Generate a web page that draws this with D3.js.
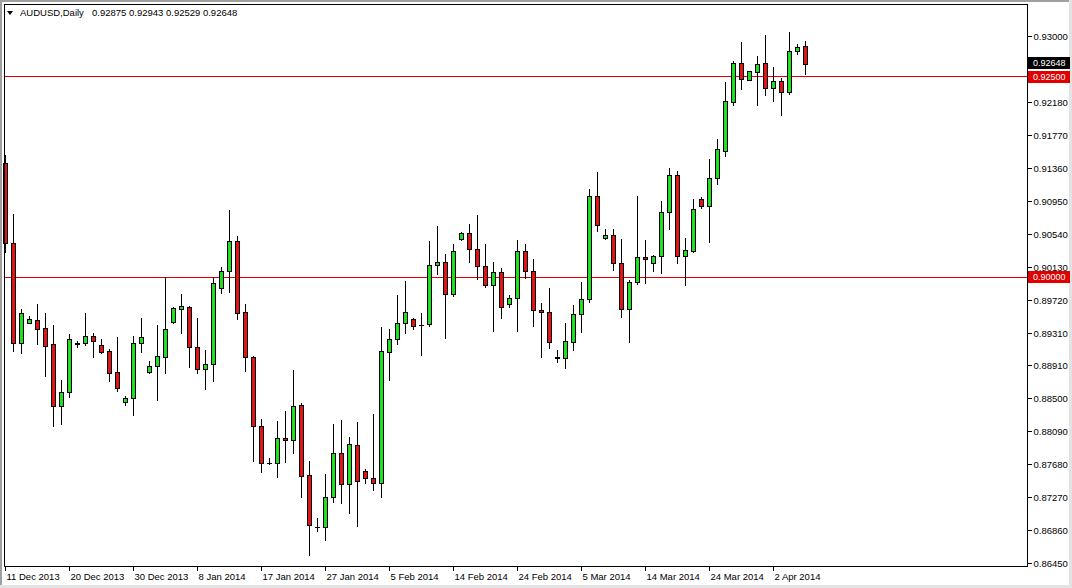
<!DOCTYPE html>
<html>
<head>
<meta charset="utf-8">
<script src="https://cdn.jsdelivr.net/npm/d3@7"></script>
<style>
  html, body { margin: 0; padding: 0; background: #fff; }
  svg { display: block; }
  text { font-family: "Liberation Sans", Arial, sans-serif; }
</style>
</head>
<body>
<svg id="chart" width="1072" height="588"></svg>
<script>
// ---- data (AUDUSD Daily, bar index 0..100) ----
const open = [0.91418,0.90423,0.89188,0.89437,0.89470,0.89367,0.89172,0.88405,0.88572,0.89181,
0.89181,0.89271,0.89156,0.89081,0.88824,0.88455,0.88497,0.89181,0.88820,0.88898,
0.89014,0.89449,0.89611,0.89635,0.89131,0.88857,0.88920,0.89864,0.90075,0.90448,
0.89566,0.89007,0.88156,0.87689,0.87697,0.88000,0.87975,0.88410,0.87540,0.86901,
0.86901,0.87267,0.87813,0.87428,0.87913,0.87590,0.87503,0.87441,0.89076,0.89230,
0.89429,0.89483,0.89408,0.89417,0.90150,0.90187,0.89790,0.90473,0.90548,0.90349,
0.90141,0.89901,0.90063,0.89665,0.89740,0.90324,0.90075,0.89591,0.89566,0.89007,
0.88998,0.89200,0.89541,0.89727,0.91011,0.90486,0.90523,0.90175,0.89603,0.89939,
0.90249,0.90175,0.90262,0.90809,0.91269,0.90262,0.90332,0.90974,0.90891,0.91231,
0.91574,0.92183,0.92661,0.92449,0.92549,0.92661,0.92350,0.92437,0.92300,0.92810,
0.92875];
const high = [0.91521,0.90788,0.89603,0.89520,0.89669,0.89561,0.89412,0.88724,0.89296,0.89213,
0.89553,0.89305,0.89230,0.89114,0.89255,0.88526,0.89271,0.89495,0.88957,0.89404,
0.90008,0.89628,0.89790,0.89644,0.89495,0.89097,0.90008,0.90125,0.90837,0.90514,
0.89669,0.89023,0.88240,0.87759,0.88215,0.88339,0.88849,0.88442,0.87718,0.87006,
0.87556,0.88178,0.88227,0.88012,0.88202,0.87614,0.88302,0.89387,0.89355,0.89781,
0.89955,0.89499,0.89553,0.90452,0.90638,0.90287,0.90415,0.90564,0.90663,0.90775,
0.90415,0.90191,0.90116,0.89781,0.90464,0.90418,0.90225,0.89681,0.89868,0.89097,
0.89429,0.89657,0.89942,0.91095,0.91310,0.90597,0.90597,0.90473,0.89967,0.91011,
0.90464,0.90272,0.90945,0.91359,0.91322,0.90489,0.90970,0.90999,0.91471,0.91720,
0.92428,0.92689,0.92929,0.92561,0.92751,0.93012,0.92615,0.92474,0.93053,0.92901,
0.92943];
const low = [0.90315,0.89089,0.89056,0.89427,0.89172,0.88774,0.88153,0.88178,0.88509,0.89138,
0.89156,0.89014,0.89064,0.88716,0.88584,0.88417,0.88289,0.89076,0.88811,0.88476,
0.88815,0.89437,0.89312,0.88890,0.88808,0.88609,0.88716,0.89810,0.89818,0.89479,
0.88840,0.87721,0.87585,0.87680,0.87523,0.87709,0.87821,0.87274,0.86549,0.86848,
0.86736,0.87208,0.87199,0.87068,0.86910,0.87448,0.87357,0.87267,0.88724,0.89168,
0.89305,0.89362,0.89031,0.89396,0.90038,0.89243,0.89768,0.90461,0.90187,0.89980,
0.89877,0.89333,0.89491,0.89628,0.89337,0.89996,0.89399,0.89007,0.89118,0.88952,
0.88874,0.89097,0.89325,0.89698,0.90580,0.90477,0.90092,0.89504,0.89200,0.89918,
0.89934,0.90083,0.90058,0.90605,0.90175,0.89909,0.90319,0.90866,0.90443,0.91164,
0.91512,0.92139,0.92345,0.92449,0.92142,0.92270,0.92192,0.92018,0.92275,0.92773,
0.92529];
const close = [0.90423,0.89188,0.89553,0.89479,0.89362,0.89151,0.88405,0.88572,0.89230,0.89178,
0.89271,0.89213,0.89076,0.88815,0.88629,0.88501,0.89181,0.89255,0.88898,0.89023,
0.89355,0.89619,0.89640,0.89131,0.88857,0.88920,0.89926,0.90075,0.90448,0.89561,
0.89007,0.88156,0.87689,0.87687,0.88000,0.87975,0.88398,0.87535,0.86918,0.86898,
0.87267,0.87813,0.87428,0.87925,0.87473,0.87503,0.87441,0.89081,0.89230,0.89429,
0.89566,0.89399,0.89406,0.90150,0.90187,0.89790,0.90324,0.90551,0.90349,0.90141,
0.89901,0.90063,0.89628,0.89740,0.90324,0.90075,0.89591,0.89566,0.89193,0.89004,
0.89209,0.89545,0.89731,0.91011,0.90647,0.90523,0.90175,0.89603,0.89939,0.90249,
0.90225,0.90262,0.90809,0.91269,0.90262,0.90340,0.90846,0.90891,0.91231,0.91592,
0.92188,0.92661,0.92462,0.92561,0.92648,0.92350,0.92437,0.92300,0.92814,0.92860,
0.92648];

const tickBars   = [0, 8, 16, 24, 32, 40, 48, 56, 64, 72, 80, 88, 96];
const tickLabels = ["11 Dec 2013","20 Dec 2013","30 Dec 2013","8 Jan 2014","17 Jan 2014","27 Jan 2014",
                    "5 Feb 2014","14 Feb 2014","24 Feb 2014","5 Mar 2014","14 Mar 2014","24 Mar 2014","2 Apr 2014"];
const priceTicks = [0.93000,0.92180,0.91770,0.91360,0.90950,0.90540,0.90130,0.89720,
                    0.89310,0.88910,0.88500,0.88090,0.87680,0.87270,0.86860,0.86450];
const hLines = [0.92500, 0.90000];
const symbol = "AUDUSD,Daily";
const lastOHLC = [0.92875, 0.92943, 0.92529, 0.92648];
const bidPrice = 0.92648;

// ---- layout ----
const W = 1072, H = 588;
const plotL = 4, plotR = 1027, plotT = 4, plotB = 566;
const upFill = "#1fdf1f", downFill = "#e01414", lineRed = "#e00000";

const svg = d3.select("#chart");
svg.append("rect").attr("width", W).attr("height", H).attr("fill", "#ffffff");

// window frame
svg.append("rect").attr("x", 0).attr("y", 0).attr("width", W).attr("height", 2).attr("fill", "#a0a0a0");
svg.append("rect").attr("x", 0).attr("y", 0).attr("width", 2).attr("height", H).attr("fill", "#a0a0a0");
svg.append("rect").attr("x", W - 3).attr("y", 0).attr("width", 3).attr("height", H).attr("fill", "#e3e3e3");
svg.append("rect").attr("x", 0).attr("y", H - 3).attr("width", W).attr("height", 3).attr("fill", "#e3e3e3");

const n = open.length;
const x = d3.scaleLinear().domain([0, 100]).range([5, 805]);
const y = d3.scaleLinear().domain([0.864129, 0.933853]).range([566, 5]);

// horizontal lines
svg.append("g").selectAll("line").data(hLines).join("line")
  .attr("x1", plotL).attr("x2", plotR)
  .attr("y1", d => Math.round(y(d)) + 0.5).attr("y2", d => Math.round(y(d)) + 0.5)
  .attr("stroke", lineRed).attr("stroke-width", 1);

const idx = d3.range(n);
const g = svg.append("g").attr("shape-rendering", "crispEdges");

// wicks
g.selectAll("line.wick").data(idx).join("line").attr("class", "wick")
  .attr("x1", i => Math.round(x(i)) + 0.5).attr("x2", i => Math.round(x(i)) + 0.5)
  .attr("y1", i => Math.round(y(high[i]))).attr("y2", i => Math.round(y(low[i])) + 1)
  .attr("stroke", "#000").attr("stroke-width", 1);

// bodies
idx.forEach(i => {
  const cx = Math.round(x(i));
  const top = Math.round(y(Math.max(open[i], close[i])));
  const bot = Math.round(y(Math.min(open[i], close[i])));
  if (bot - top < 1) {
    g.append("line").attr("x1", cx - 2).attr("x2", cx + 3)
      .attr("y1", top + 0.5).attr("y2", top + 0.5)
      .attr("stroke", "#000").attr("stroke-width", 1);
  } else {
    g.append("rect").attr("x", cx - 1.5).attr("y", top + 0.5)
      .attr("width", 4).attr("height", bot - top)
      .attr("fill", close[i] >= open[i] ? upFill : downFill)
      .attr("stroke", "#000").attr("stroke-width", 1);
  }
});

// plot frame
svg.append("rect").attr("x", plotL + 0.5).attr("y", plotT + 0.5)
  .attr("width", plotR - plotL).attr("height", plotB - plotT)
  .attr("fill", "none").attr("stroke", "#000").attr("stroke-width", 1)
  .attr("shape-rendering", "crispEdges");

// right price axis
const yAxis = d3.axisRight(y).tickValues(priceTicks).tickFormat(d3.format(".5f"))
  .tickSize(4).tickPadding(2);
const ya = svg.append("g").attr("transform", `translate(${plotR + 0.5},0)`)
  .attr("shape-rendering", "crispEdges").call(yAxis);
ya.select(".domain").remove();
ya.selectAll(".tick").attr("transform", d => `translate(0,${Math.round(y(d)) + 0.5})`);
ya.selectAll("text").attr("font-size", "9.5px").attr("font-family", "Liberation Sans, Arial, sans-serif").attr("fill", "#000");

// bottom time axis
const xAxis = d3.axisBottom(x).tickValues(tickBars)
  .tickFormat((d, i) => tickLabels[i]).tickSize(4).tickPadding(3);
const xa = svg.append("g").attr("transform", `translate(0,${plotB + 0.5})`)
  .attr("shape-rendering", "crispEdges").call(xAxis);
xa.select(".domain").remove();
xa.selectAll(".tick").attr("transform", d => `translate(${Math.round(x(d)) + 0.5},0)`);
xa.selectAll("text").attr("text-anchor", "start").attr("dx", "1px")
  .attr("font-size", "9.5px").attr("font-family", "Liberation Sans, Arial, sans-serif").attr("fill", "#000");

// price labels on axis
function priceTag(v, bg, dy) {
  const yy = Math.round(y(v)) + dy;
  svg.append("rect").attr("x", plotR + 1).attr("y", yy - 6).attr("width", 42).attr("height", 12)
    .attr("fill", bg);
  svg.append("text").attr("x", plotR + 6).attr("y", yy + 3)
    .attr("font-size", "9px").attr("fill", "#fff").text(d3.format(".5f")(v));
}
priceTag(bidPrice, "#000", -1);
priceTag(hLines[0], lineRed, 1);
priceTag(hLines[1], lineRed, 0);

// header
svg.append("path").attr("d", "M7,11 L13,11 L10,15 Z").attr("fill", "#000");
svg.append("text").attr("x", 20).attr("y", 16).attr("font-size", "9.5px").attr("fill", "#000").text(symbol);
svg.append("text").attr("x", 92).attr("y", 16).attr("font-size", "9.5px").attr("fill", "#000")
  .text(lastOHLC.map(d3.format(".5f")).join(" "));
</script>
</body>
</html>
